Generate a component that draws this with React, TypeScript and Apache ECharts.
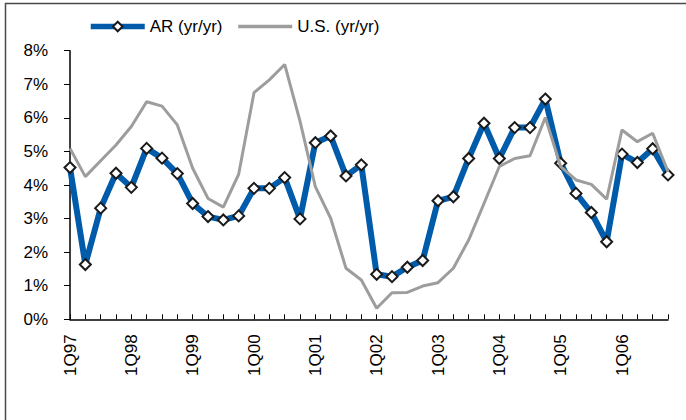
import React, { useEffect, useRef } from "react";
import * as echarts from "echarts";

const quarters = [
  "1Q97", "2Q97", "3Q97", "4Q97",
  "1Q98", "2Q98", "3Q98", "4Q98",
  "1Q99", "2Q99", "3Q99", "4Q99",
  "1Q00", "2Q00", "3Q00", "4Q00",
  "1Q01", "2Q01", "3Q01", "4Q01",
  "1Q02", "2Q02", "3Q02", "4Q02",
  "1Q03", "2Q03", "3Q03", "4Q03",
  "1Q04", "2Q04", "3Q04", "4Q04",
  "1Q05", "2Q05", "3Q05", "4Q05",
  "1Q06", "2Q06", "3Q06", "4Q06",
];

const arValues = [
  4.52, 1.63, 3.31, 4.35, 3.93, 5.09, 4.8, 4.34, 3.45, 3.06,
  2.96, 3.08, 3.9, 3.9, 4.22, 2.99, 5.26, 5.46, 4.27, 4.6,
  1.34, 1.27, 1.55, 1.75, 3.53, 3.65, 4.79, 5.84, 4.79, 5.71,
  5.71, 6.56, 4.65, 3.75, 3.18, 2.31, 4.92, 4.67, 5.08, 4.3,
];

const usValues = [
  5.09, 4.25, 4.72, 5.19, 5.74, 6.48, 6.35, 5.79, 4.5, 3.6,
  3.34, 4.32, 6.75, 7.13, 7.59, 5.9, 3.95, 3.01, 1.52, 1.17,
  0.33, 0.79, 0.8, 0.99, 1.09, 1.52, 2.36, 3.45, 4.55, 4.79,
  4.87, 6.01, 4.55, 4.15, 4.02, 3.58, 5.64, 5.29, 5.54, 4.4,
];

const seriesNames = ["AR (yr/yr)", "U.S. (yr/yr)"];

const FONT = "'Liberation Sans', Arial, sans-serif";

export default function App() {
  const ref = useRef<HTMLDivElement>(null);

  useEffect(() => {
    if (!ref.current) return;
    const chart = echarts.init(ref.current, null, { renderer: "svg" });
    chart.setOption({
      animation: false,
      backgroundColor: "#ffffff",
      textStyle: { fontFamily: FONT },
      legend: {
        top: 13,
        left: 83,
        itemWidth: 54,
        itemHeight: 12,
        itemGap: 14,
        textStyle: { fontSize: 17, color: "#000", fontFamily: FONT },
        data: [
          {
            name: seriesNames[0],
            lineStyle: { width: 5.5, color: "#005BAA" },
          },
          {
            name: seriesNames[1],
            lineStyle: { width: 3.5, color: "#9d9d9d" },
            itemStyle: { color: "rgba(0,0,0,0)", borderWidth: 0, opacity: 0 },
          },
        ],
      },
      grid: { left: 70, right: 18, top: 50.7, bottom: 100.7, containLabel: false },
      xAxis: {
        type: "category",
        data: quarters,
        boundaryGap: false,
        axisLine: { show: true, lineStyle: { color: "#000", width: 1.5 } },
        axisTick: { show: true, inside: true, length: 5, interval: 0, lineStyle: { color: "#000", width: 1 } },
        axisLabel: {
          interval: 3,
          rotate: 90,
          margin: 15,
          fontSize: 17,
          color: "#000",
          fontFamily: FONT,
        },
        splitLine: { show: false },
      },
      yAxis: {
        type: "value",
        min: 0,
        max: 8,
        interval: 1,
        axisLine: { show: true, lineStyle: { color: "#000", width: 1.5 } },
        axisTick: { show: true, inside: false, length: 6, lineStyle: { color: "#000", width: 1 } },
        axisLabel: {
          formatter: "{value}%",
          margin: 22,
          fontSize: 17,
          color: "#000",
          fontFamily: FONT,
        },
        splitLine: { show: false },
      },
      series: [
        {
          name: seriesNames[0],
          type: "line",
          data: arValues,
          color: "#005BAA",
          lineStyle: { color: "#005BAA", width: 6 },
          symbol: "diamond",
          symbolSize: 11,
          showAllSymbol: true,
          itemStyle: { color: "#ffffff", borderColor: "#1a1a1a", borderWidth: 2 },
          z: 2,
        },
        {
          name: seriesNames[1],
          type: "line",
          data: usValues,
          color: "#9d9d9d",
          lineStyle: { color: "#9d9d9d", width: 3 },
          symbol: "none",
          showSymbol: false,
          z: 3,
        },
      ],
      graphic: [
        {
          type: "line",
          shape: { x1: 5, y1: 3.5, x2: 686, y2: 3.5 },
          style: { stroke: "#4a4a4a", lineWidth: 1.5 },
          silent: true,
        },
        {
          type: "line",
          shape: { x1: 5.5, y1: 3, x2: 5.5, y2: 420 },
          style: { stroke: "#4a4a4a", lineWidth: 1.5 },
          silent: true,
        },
      ],
    });
    return () => chart.dispose();
  }, []);

  return (
    <div
      ref={ref}
      style={{ position: "fixed", left: 0, top: 0, width: 686, height: 420 }}
    />
  );
}
